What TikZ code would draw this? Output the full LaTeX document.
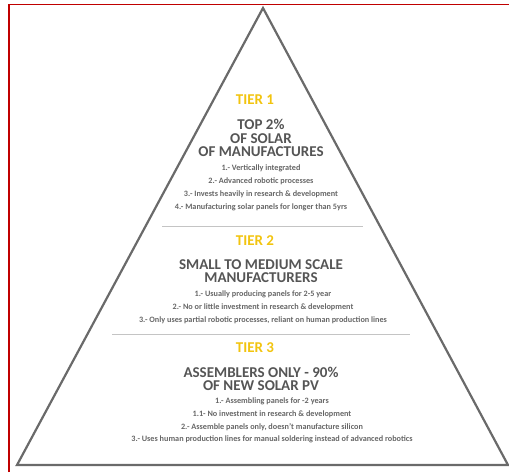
\documentclass[tikz,border=0pt]{standalone}
\usepackage{fontspec}
\setmainfont{Carlito}
\usepackage{xcolor}

\definecolor{frameRed}{HTML}{C00000}
\definecolor{pyrGray}{HTML}{6A6A6A}
\definecolor{sepGray}{HTML}{C4C4C4}
\definecolor{tierGold}{HTML}{F2C40F}
\definecolor{headGray}{HTML}{555555}
\definecolor{listGray}{HTML}{666666}

\tikzset{
	tierlabel/.style={text=tierGold, inner sep=0pt, font=\bfseries\fontsize{15}{16}\selectfont},
	heading/.style={text=headGray, inner sep=0pt, align=center, font=\bfseries\fontsize{15}{13.6}\selectfont},
	points/.style={text=listGray, inner sep=0pt, align=center, font=\bfseries\fontsize{8.2}{12.8}\selectfont},
	separator/.style={sepGray, line width=1pt}
}

\begin{document}
\begin{tikzpicture}[x=1pt, y=-1pt]
	\useasboundingbox (0,0) rectangle (509,472);

	% frame
	\draw [frameRed, line width=1.6pt] (9,472) -- (9,4.5) -- (509,4.5);

	% pyramid
	\coordinate (apex) at (263,8);
	\coordinate (baseL) at (17,465);
	\coordinate (baseR) at (508,465);
	\draw [pyrGray, line width=2.2pt, line join=miter] (baseL) -- (apex) -- (baseR) -- cycle;

	% separators
	\coordinate (sepA1) at (162,226);
	\coordinate (sepA2) at (363,226);
	\coordinate (sepB1) at (112,334);
	\coordinate (sepB2) at (410,334);
	\draw [separator] (sepA1) -- (sepA2);
	\draw [separator] (sepB1) -- (sepB2);

	% tier 1
	\node [tierlabel] (tierOne) at (255,100) {TIER 1};
	\node [heading] (headOne) at (261,138) {TOP 2\%\\OF SOLAR\\OF MANUFACTURES};
	\node [points] (listOne) at (261,188) {1.- Vertically integrated\\
		2.- Advanced robotic processes\\
		3.- Invests heavily in research \& development\\
		4.- Manufacturing solar panels for longer than 5yrs};

	% tier 2
	\node [tierlabel] (tierTwo) at (255,241) {TIER 2};
	\node [heading] (headTwo) at (261,271) {SMALL TO MEDIUM SCALE\\MANUFACTURERS};
	\node [points] (listTwo) at (263,307) {1.- Usually producing panels for 2-5 year\\
		2.- No or little investment in research \& development\\
		3.- Only uses partial robotic processes, reliant on human production lines};

	% tier 3
	\node [tierlabel] (tierThree) at (255,348) {TIER 3};
	\node [heading] (headThree) at (261,379) {ASSEMBLERS ONLY - 90\%\\OF NEW SOLAR PV};
	\node [points] (listThree) at (272,420.5) {1.- Assembling panels for -2 years\\
		1.1- No investment in research \& development\\
		2.- Assemble panels only, doesn't manufacture silicon\\
		3.- Uses human production lines for manual soldering instead of advanced robotics};
\end{tikzpicture}
\end{document}
